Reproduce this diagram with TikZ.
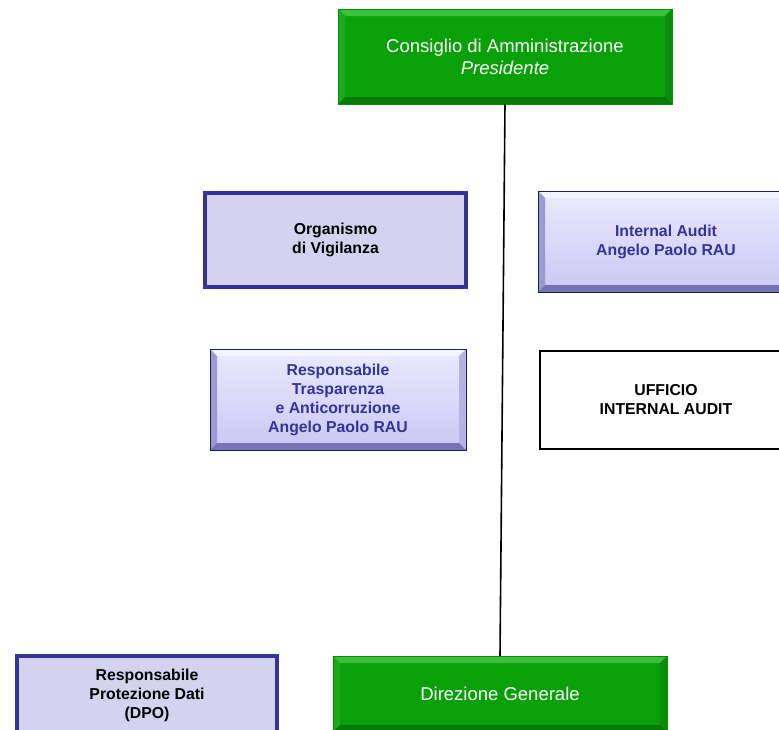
\documentclass[tikz,border=0pt]{standalone}
\usepackage{fontspec}
\setmainfont{Liberation Sans}
\definecolor{gmain}{HTML}{0AA00A}
\definecolor{glight}{HTML}{3CC03C}
\definecolor{gleft}{HTML}{1AAA1A}
\definecolor{gright}{HTML}{088E08}
\definecolor{gbot}{HTML}{067A06}
\definecolor{lav}{HTML}{D3D3F0}
\definecolor{navy}{HTML}{333399}
\definecolor{btop}{HTML}{EAEAFF}
\definecolor{bbot}{HTML}{C8C8F2}
\definecolor{bleft}{HTML}{9A9AD2}
\definecolor{blight}{HTML}{F4F4FF}
\definecolor{bright}{HTML}{B4B4E2}
\definecolor{bdark}{HTML}{7474B4}
\begin{document}
\begin{tikzpicture}[x=1pt,y=-1pt,
  box/.style={inner sep=0pt,outer sep=0pt,align=center,anchor=center},
  bev/.style n args={4}{path picture={
    \fill[#1] (path picture bounding box.north west) -- (path picture bounding box.north east)
      -- ([xshift=-7pt,yshift=-7pt]path picture bounding box.north east) -- ([xshift=7pt,yshift=-7pt]path picture bounding box.north west) -- cycle;
    \fill[#2] (path picture bounding box.north west) -- ([xshift=7pt,yshift=-7pt]path picture bounding box.north west)
      -- ([xshift=7pt,yshift=7pt]path picture bounding box.south west) -- (path picture bounding box.south west) -- cycle;
    \fill[#3] (path picture bounding box.north east) -- ([xshift=-7pt,yshift=-7pt]path picture bounding box.north east)
      -- ([xshift=-7pt,yshift=7pt]path picture bounding box.south east) -- (path picture bounding box.south east) -- cycle;
    \fill[#4] (path picture bounding box.south west) -- ([xshift=7pt,yshift=7pt]path picture bounding box.south west)
      -- ([xshift=-7pt,yshift=7pt]path picture bounding box.south east) -- (path picture bounding box.south east) -- cycle;
  }},
  greenbox/.style={box,fill=gmain,draw=gright,line width=0.6pt,text=white,
    font=\fontsize{18.5}{22}\selectfont,bev={glight}{gleft}{gright}{gbot}},
  bluebevel/.style={box,top color=btop,bottom color=bbot,draw=navy!60!black,line width=0.8pt,
    text=navy,font=\fontsize{15.8}{19}\selectfont\bfseries,bev={blight}{bleft}{bright}{bdark}},
  flatblue/.style={box,fill=lav,draw=navy,line width=3.5pt,text=black,
    font=\fontsize{15.8}{19}\selectfont\bfseries},
  whitebox/.style={box,fill=white,draw=black,line width=1.5pt,text=black,
    font=\fontsize{15.8}{19}\selectfont\bfseries},
  link/.style={draw=black,line width=1.6pt}]
\useasboundingbox (0,0) rectangle (779,729);
\fill[white] (0,0) rectangle (779,729);

\node[greenbox,minimum width=334pt,minimum height=95pt] (cda) at (505,56.5)
  {Consiglio di Amministrazione\\\itshape Presidente};
\node[flatblue,minimum width=261pt,minimum height=94pt] (odv) at (335.5,240)
  {Organismo\\di Vigilanza};
\node[bluebevel,minimum width=256pt,minimum height=101pt] (ia) at (666,241.5)
  {Internal Audit\\Angelo Paolo RAU};
\node[bluebevel,minimum width=256pt,minimum height=101pt] (rpct) at (338,399.5)
  {Responsabile\\Trasparenza\\e Anticorruzione\\Angelo Paolo RAU};
\node[whitebox,minimum width=252pt,minimum height=98pt] (uia) at (666,400)
  {UFFICIO\\INTERNAL AUDIT};
\node[flatblue,minimum width=260pt,minimum height=78pt] (dpo) at (147,695)
  {Responsabile\\Protezione Dati\\(DPO)};
\node[greenbox,minimum width=334pt,minimum height=76pt] (dg) at (500,694)
  {Direzione Generale};

\draw[link] (cda.south) -- (dg.north);
\end{tikzpicture}
\end{document}
